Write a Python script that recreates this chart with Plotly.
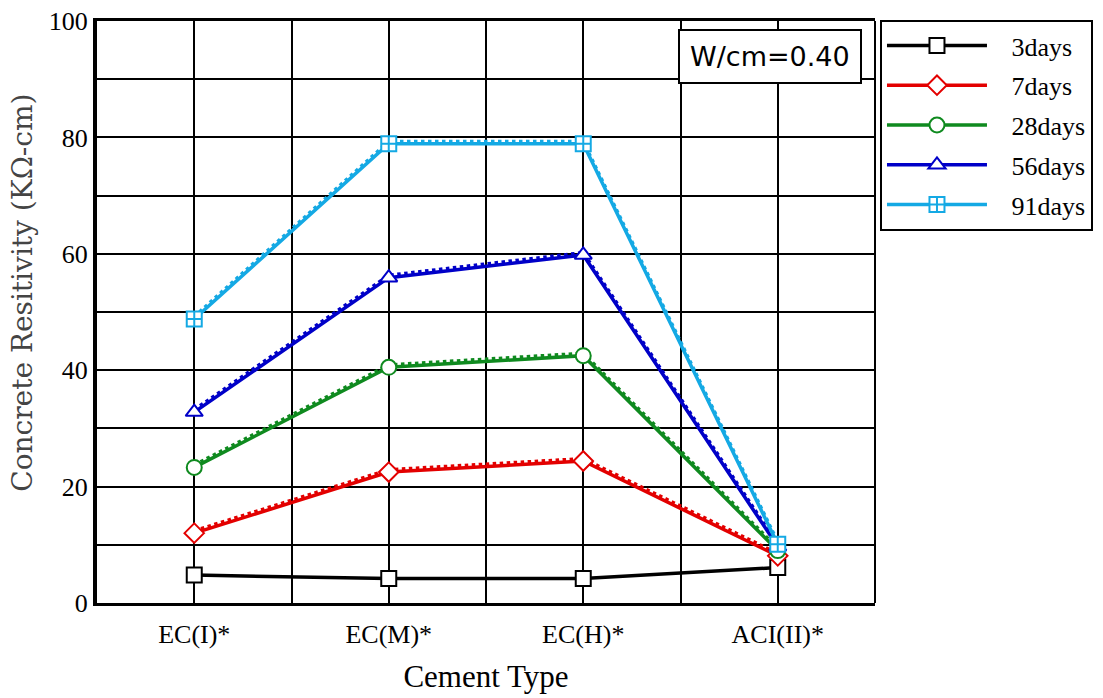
import plotly.graph_objects as go

# Cement types and resistivity (KΩ-cm) at each curing age
cement_types = ["EC(I)*", "EC(M)*", "EC(H)*", "ACI(II)*"]
res_3days = [4.8, 4.2, 4.2, 6.1]
res_7days = [12.0, 22.5, 24.4, 8.1]
res_28days = [23.3, 40.5, 42.5, 9.0]
res_56days = [32.8, 55.9, 59.8, 9.7]
res_91days = [48.8, 78.9, 78.9, 10.1]

series = [
    ("3days", res_3days, "#000000", "square", False),
    ("7days", res_7days, "#e30000", "diamond", True),
    ("28days", res_28days, "#0f8a1f", "circle", True),
    ("56days", res_56days, "#0000c8", "triangle-up", True),
    ("91days", res_91days, "#14a9e4", "square-cross", True),
]

x_pos = list(range(1, len(cement_types) + 1))
fig = go.Figure()

for name, vals, color, symbol, dotted in series:
    if dotted:
        # dotted companion stroke drawn just above the solid line
        fig.add_trace(go.Scatter(
            x=x_pos, y=[v + 0.4 for v in vals], mode="lines",
            line=dict(color=color, width=3.5, dash="dot"),
            legendgroup=name, showlegend=False, hoverinfo="skip",
        ))
    fig.add_trace(go.Scatter(
        x=x_pos, y=vals, mode="lines+markers",
        name="\u00a0\u00a0\u00a0" + name, legendgroup=name,
        line=dict(color=color, width=3.5),
        marker=dict(symbol=symbol, size=15, color="white",
                    line=dict(color=color, width=2)),
    ))

x_ticks = [0.5 + 0.5 * i for i in range(9)]
x_labels = [cement_types[int(t) - 1] if t == int(t) else "" for t in x_ticks]
y_ticks = list(range(0, 101, 10))
y_labels = [str(t) if t % 20 == 0 else "" for t in y_ticks]

fig.update_layout(
    width=1103, height=698,
    margin=dict(l=97, r=228, t=21, b=95, autoexpand=False),
    paper_bgcolor="white", plot_bgcolor="white",
    font=dict(family="Liberation Serif", color="black"),
    xaxis=dict(
        range=[0.5, 4.5], tickvals=x_ticks, ticktext=x_labels,
        showgrid=True, gridcolor="black", gridwidth=2,
        showline=True, linecolor="black", linewidth=3, mirror=True,
        ticks="", ticklabelstandoff=6, automargin=False,
        tickfont=dict(size=26, family="Liberation Serif"),
        title=dict(text="Cement Type", font=dict(size=31, family="Liberation Serif"), standoff=18),
        zeroline=False,
    ),
    yaxis=dict(
        range=[0, 100], tickvals=y_ticks, ticktext=y_labels,
        showgrid=True, gridcolor="black", gridwidth=2,
        showline=True, linecolor="black", linewidth=4,
        ticks="", automargin=False,
        tickfont=dict(size=26, family="Liberation Serif"),
        zeroline=False,
    ),
    legend=dict(
        x=1.0064, y=1.0017, xanchor="left", yanchor="top",
        bgcolor="white", bordercolor="black", borderwidth=2,
        font=dict(size=26, family="Liberation Serif"),
        tracegroupgap=3, itemwidth=100,
    ),
    showlegend=True,
)

# right edge of the plot frame
fig.add_shape(type="line", xref="paper", yref="paper", x0=1, x1=1, y0=0, y1=1,
              line=dict(color="black", width=2))

# y-axis title
fig.add_annotation(
    xref="paper", yref="paper", x=0, y=0.533, xanchor="center", yanchor="middle",
    xshift=-74, textangle=-90, showarrow=False,
    text="Concrete Resitivity (KΩ-cm)",
    font=dict(size=28, family="DejaVu Serif", color="#444444"),
)

fig.add_annotation(
    xref="paper", yref="paper", x=0.983, y=0.986, xanchor="right", yanchor="top",
    text="W/cm=0.40", showarrow=False,
    font=dict(family="DejaVu Sans", size=27, color="black"),
    bgcolor="white", bordercolor="black", borderwidth=2, borderpad=10,
)

fig.write_html("out.html")
